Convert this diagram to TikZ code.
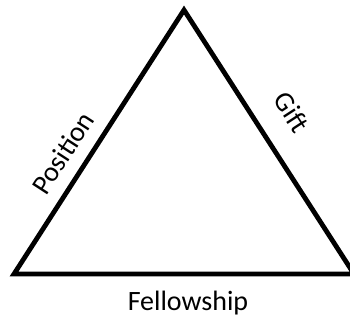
\documentclass[tikz,border=0pt]{standalone}
\usepackage{fontspec}
\setmainfont{Carlito}
\begin{document}
\begin{tikzpicture}[x=1pt,y=-1pt,
  side/.style={line width=4.8pt,line join=miter},
  lbl/.style={font=\fontsize{28}{32}\selectfont,inner sep=0pt}]
\useasboundingbox (0,0) rectangle (350,322);
\coordinate (top) at (184,10);
\coordinate (bl) at (14,274);
\coordinate (br) at (354,274);
\draw[side] (top) -- (bl) -- (br) -- cycle;
\node[lbl,rotate=57] (pos) at (63,153) {Position};
\node[lbl,rotate=-57] (gift) at (292,112) {Gift};
\node[lbl] (fel) at (188,303) {Fellowship};
\end{tikzpicture}
\end{document}
